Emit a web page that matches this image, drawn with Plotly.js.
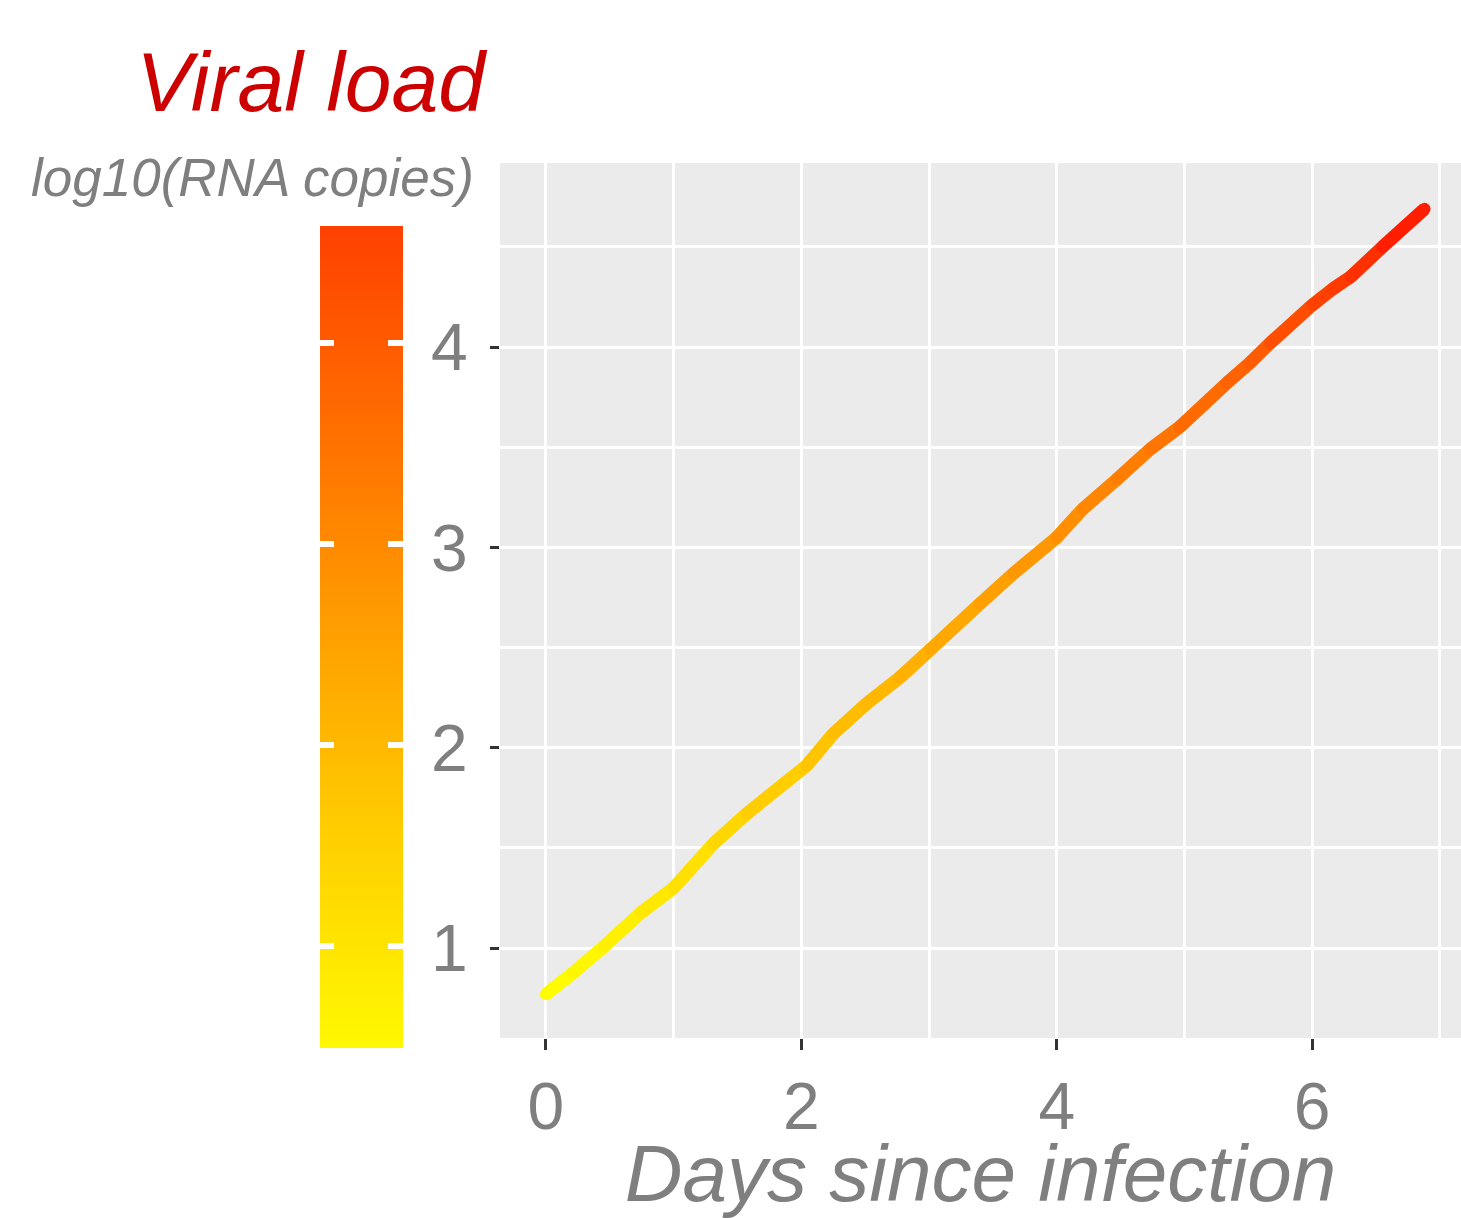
<!DOCTYPE html>
<html><head><meta charset="utf-8">
<script src="https://cdn.plot.ly/plotly-3.0.1.min.js"></script>
<style>html,body{margin:0;padding:0;background:#fff}</style>
</head><body><div id="chart" style="width:1461px;height:1218px"></div>
<script>
// Data
const days = [0.0, 0.21, 0.45, 0.74, 1.0, 1.31, 1.57, 2.04, 2.25, 2.51, 2.77, 3.01, 3.40, 3.66, 4.0, 4.2, 4.47, 4.73, 4.96, 5.33, 5.51, 5.67, 6.0, 6.16, 6.30, 6.55, 6.88];
const load = [0.77, 0.875, 1.005, 1.175, 1.30, 1.52, 1.67, 1.91, 2.07, 2.22, 2.35, 2.49, 2.72, 2.87, 3.05, 3.19, 3.34, 3.49, 3.60, 3.82, 3.92, 4.02, 4.21, 4.29, 4.35, 4.50, 4.69];
const xTicks = [0, 2, 4, 6];
const xTickText = ['0', '2', '4', '6'];
const xMinor = [1, 3, 5, 7];
const yTicks = [1, 2, 3, 4];
const yTickText = ['1', '2', '3', '4'];
const yMinor = [1.5, 2.5, 3.5, 4.5];
// colour scale of the line (value -> colour)
const lineScaleValues = [0.77, 1.9, 3.0, 4.0, 4.69];
const lineScaleColors = ['#FFFF00', '#FFC800', '#FF9600', '#FF5A00', '#FF1500'];
// colour bar (legend) limits and colours
const barValues = [0.49, 1.0, 1.5, 2.54, 3.5, 4.58];
const barColors = ['#FFF800', '#FFE400', '#FFD000', '#FFA000', '#FF7200', '#FF4000'];

const FONT = 'Liberation Sans, Arial, sans-serif';
const GREY = '#7F7F7F';

function hexToRgb(h){ return [parseInt(h.substr(1,2),16), parseInt(h.substr(3,2),16), parseInt(h.substr(5,2),16)]; }
function colorAt(v, vals, cols){
  if (v <= vals[0]) return cols[0];
  for (let i = 0; i < vals.length - 1; i++){
    if (v <= vals[i+1]){
      const t = (v - vals[i]) / (vals[i+1] - vals[i]);
      const a = hexToRgb(cols[i]), b = hexToRgb(cols[i+1]);
      const c = a.map((x, k) => Math.round(x + (b[k] - x) * t));
      return 'rgb(' + c.join(',') + ')';
    }
  }
  return cols[cols.length - 1];
}

const traces = [];
// colour bar as a heatmap
const barMin = barValues[0], barMax = barValues[barValues.length - 1];
const nRows = 400;
const rows = [];
for (let i = 0; i < nRows; i++) rows.push(barMin + (i + 0.5) * (barMax - barMin) / nRows);
traces.push({
  type: 'heatmap', xaxis: 'x2', yaxis: 'y2',
  x: [0], y: rows, z: rows.map(v => [v]),
  zmin: barMin, zmax: barMax,
  colorscale: barValues.map((v, i) => [(v - barMin) / (barMax - barMin), barColors[i]]),
  showscale: false, hoverinfo: 'skip'
});
traces.push({type: 'scatter', xaxis: 'x2', yaxis: 'y3', x: [], y: [], showlegend: false});

// coloured line, one segment per pair of points (round caps hide the joins)
for (let i = 0; i < days.length - 1; i++){
  const mid = (load[i] + load[i+1]) / 2;
  const col = colorAt(mid, lineScaleValues, lineScaleColors);
  traces.push({
    type: 'scatter', mode: 'lines+markers',
    x: [days[i], days[i+1]], y: [load[i], load[i+1]],
    line: {color: col, width: 13},
    marker: {color: col, size: 12, line: {width: 0}},
    showlegend: false, hoverinfo: 'skip'
  });
}

const tickFont = {family: FONT, size: 66, color: GREY};
const layout = {
  width: 1461, height: 1218,
  margin: {l: 0, r: 0, t: 163, b: 170},
  paper_bgcolor: '#FFFFFF', plot_bgcolor: '#EBEBEB',
  showlegend: false,
  title: {
    text: 'Viral load',
    font: {family: FONT, size: 84, color: '#CC0000', style: 'italic'},
    xref: 'container', x: 485/1461, xanchor: 'right',
    yref: 'container', y: 1 - 82/1218, yanchor: 'middle'
  },
  annotations: [{
    text: 'log10(RNA copies)', showarrow: false,
    xref: 'paper', x: 476/1461, xanchor: 'right',
    yref: 'paper', y: (1048 - 177)/885, yanchor: 'middle',
    font: {family: FONT, size: 53, color: GREY, style: 'italic'}
  }],
  xaxis: {
    domain: [500/1461, 1], anchor: 'y',
    range: [-0.36, 7.165],
    tickmode: 'array', tickvals: xTicks, ticktext: xTickText,
    ticks: 'outside', ticklen: 11, tickwidth: 3, tickcolor: '#333333',
    tickfont: tickFont, ticklabelstandoff: 0,
    showgrid: true, gridcolor: '#FFFFFF', gridwidth: 3,
    minor: {tickmode: 'array', tickvals: xMinor, showgrid: true, gridcolor: '#FFFFFF', gridwidth: 3, ticks: ''},
    zeroline: false, showline: false,
    title: {text: 'Days since infection', font: {family: FONT, size: 80, color: GREY, style: 'italic'}, standoff: 22}
  },
  yaxis: {
    domain: [10/885, 1], anchor: 'x',
    range: [0.551, 4.919],
    tickmode: 'array', tickvals: yTicks, ticktext: yTickText,
    ticks: 'outside', ticklen: 9, tickwidth: 3, tickcolor: '#333333',
    tickfont: tickFont, ticklabelstandoff: 9,
    showgrid: true, gridcolor: '#FFFFFF', gridwidth: 3,
    minor: {tickmode: 'array', tickvals: yMinor, showgrid: true, gridcolor: '#FFFFFF', gridwidth: 3, ticks: ''},
    zeroline: false, showline: false
  },
  xaxis2: {
    domain: [320/1461, 403/1461], anchor: 'y2', range: [-0.5, 0.5],
    showgrid: false, zeroline: false, showline: false, showticklabels: false, ticks: ''
  },
  yaxis2: {
    domain: [0, 822/885], anchor: 'x2', side: 'left', range: [barMin, barMax],
    tickmode: 'array', tickvals: yTicks, ticks: 'inside', ticklen: 14, tickwidth: 6, tickcolor: '#FFFFFF',
    showticklabels: false, showgrid: false, zeroline: false, showline: false
  },
  yaxis3: {
    overlaying: 'y2', anchor: 'x2', side: 'right', range: [barMin, barMax],
    tickmode: 'array', tickvals: yTicks, ticks: 'inside', ticklen: 15, tickwidth: 6, tickcolor: '#FFFFFF',
    showticklabels: false, showgrid: false, zeroline: false, showline: false
  }
};

Plotly.newPlot('chart', traces, layout, {staticPlot: true, displayModeBar: false});
</script>
</body></html>
